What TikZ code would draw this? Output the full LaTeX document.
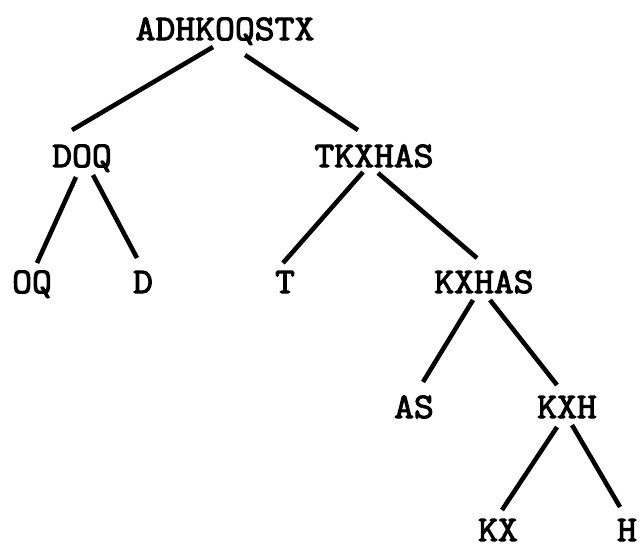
\documentclass[tikz,border=0pt]{standalone}
\usepackage{fontspec}
\newfontfamily\treefont{Latin Modern Mono}[FakeBold=3, FakeStretch=1.07]
\usetikzlibrary{calc}

\begin{document}
\begin{tikzpicture}[x=0.02cm, y=-0.02cm]
            \tikzset{set/.style={font=\treefont\fontsize{20.5}{20.5}\selectfont, inner sep=0pt, anchor=base}}
            \tikzset{branch/.style={line width=2.6pt}}
            \useasboundingbox (0, 0) rectangle (642, 549);
            % the sets, placed at their baselines
            \node[set] (root) at (225, 40) {ADHKOQSTX};
            \node[set] (doq) at (82, 167) {DOQ};
            \node[set] (tkxhas) at (374, 167) {TKXHAS};
            \node[set] (oq) at (32, 293) {OQ};
            \node[set] (d) at (143, 293) {D};
            \node[set] (t) at (285, 293) {T};
            \node[set] (kxhas) at (484, 293) {KXHAS};
            \node[set] (as) at (414, 418) {AS};
            \node[set] (kxh) at (567, 418) {KXH};
            \node[set] (kx) at (498, 541) {KX};
            \node[set] (h) at (627, 541) {H};
            % branches
            \draw[branch] ($(root.base) + (-12, 7)$) -- ($(doq.base) + (-10, -37)$);
            \draw[branch] ($(root.base) + (20, 15)$) -- ($(tkxhas.base) + (-16, -37)$);
            \draw[branch] ($(doq.base) + (-6, 10)$) -- ($(oq.base) + (5, -30)$);
            \draw[branch] ($(doq.base) + (11, 8)$) -- ($(d.base) + (-6, -35)$);
            \draw[branch] ($(tkxhas.base) + (-11, 5)$) -- ($(t.base) + (-2, -30)$);
            \draw[branch] ($(tkxhas.base) + (4, 6)$) -- ($(kxhas.base) + (-7, -35)$);
            \draw[branch] ($(kxhas.base) + (-11, 7)$) -- ($(as.base) + (9, -36)$);
            \draw[branch] ($(kxhas.base) + (6, 7)$) -- ($(kxh.base) + (-10, -33)$);
            \draw[branch] ($(kxh.base) + (-10, 9)$) -- ($(kx.base) + (4, -31)$);
            \draw[branch] ($(kxh.base) + (5, 7)$) -- ($(h.base) + (-7, -34)$);
\end{tikzpicture}
\end{document}
